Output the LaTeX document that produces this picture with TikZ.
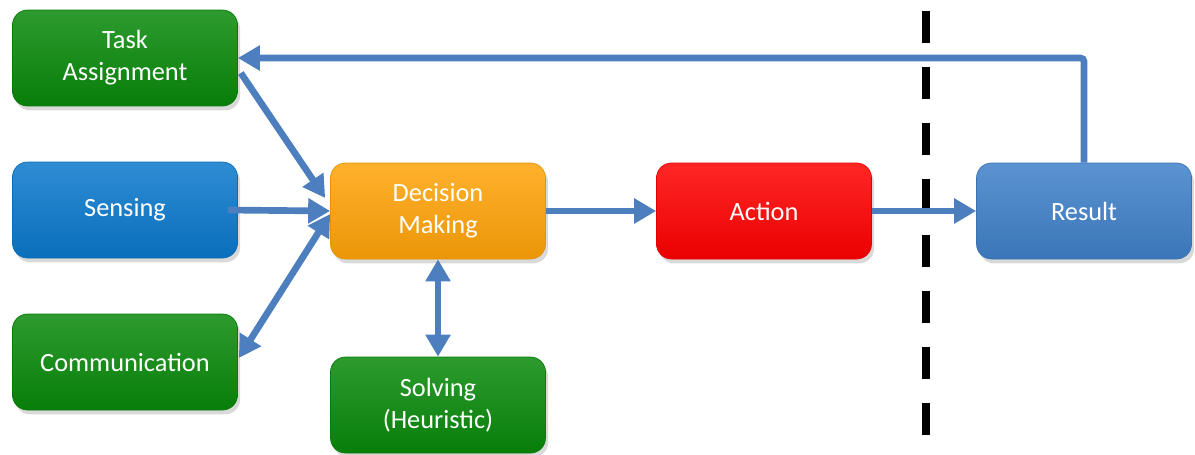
\documentclass[tikz,border=0pt]{standalone}
\usepackage{fontspec}
\setmainfont{Carlito}
\usepackage{xcolor}
\usepackage{tikz}
\usetikzlibrary{arrows.meta, calc, shadows}

\definecolor{taskgreen}{HTML}{08890A}
\definecolor{senseblue}{HTML}{0A78CC}
\definecolor{decorange}{HTML}{FFA308}
\definecolor{actred}{HTML}{FF0000}
\definecolor{resblue}{HTML}{3F80C8}
\definecolor{flowblue}{HTML}{4D7FBE}

\begin{document}
\begin{tikzpicture}[x=0.02cm, y=-0.02cm,
    flow/.style={draw=flowblue, line width=3.8pt, -{Triangle[width=0.48cm, length=0.44cm]}},
    twoway/.style={flow, {Triangle[width=0.48cm, length=0.44cm]}-{Triangle[width=0.48cm, length=0.44cm]}}]
    \tikzstyle{block}=[rounded corners=0.3cm, minimum width=4.5cm, minimum height=1.92cm,
        align=center, text=white, font=\fontsize{15}{18.2}\selectfont,
        drop shadow={opacity=0.3, shadow xshift=1.5pt, shadow yshift=-2.5pt}]
    \tikzset{boxfill/.style={block, top color=#1!85!white, middle color=#1, bottom color=#1!92!black, draw=#1!90!black, line width=0.4pt},
        narrow/.style={minimum width=4.3cm}}

    \useasboundingbox (0,0) rectangle (1195,454);

    % --- NODES ---
    % Inputs on the left column
    \node[boxfill=taskgreen]  (task)    at (125,58)  {Task\\Assignment};
    \node[boxfill=senseblue]  (sensing) at (125,210) {Sensing};
    \node[boxfill=taskgreen]  (comm)    at (125,362) {Communication};

    % Middle and right row
    \node[boxfill=decorange, narrow]  (decision) at (438,211)  {Decision\\Making};
    \node[boxfill=taskgreen, narrow]  (solving)  at (438,405)  {Solving\\(Heuristic)};
    \node[boxfill=actred, narrow]     (action)   at (764,211)  {Action};
    \node[boxfill=resblue, narrow]    (result)   at (1084,211) {Result};

    % --- DIVIDER ---
    \coordinate (divtop) at (926,10.7);
    \coordinate (divbot) at (926,434.7);
    \draw[line width=0.16cm, dash pattern=on 0.64cm off 0.48cm] (divtop) -- (divbot);

    % --- EDGES ---
    % Into Decision Making
    \draw[flow] ($(task.east)+(3,15)$) -- ($(decision.west)+(-5,-13)$);
    \draw[flow] ($(sensing.east)+(-10,0)$) -- (decision.west);
    \draw[twoway] ($(comm.east)+(1,-4)$) -- ($(decision.west)+(0,3)$);

    % Decision Making <-> Solving
    \draw[twoway] (decision.south) -- (solving.north);

    % Along the main row
    \draw[flow] (decision.east) -- (action.west);
    \draw[flow] (action.east) -- (result.west);

    % Feedback from Result
    \draw[flow, rounded corners=2pt] (result.north) |- (task.east);

\end{tikzpicture}
\end{document}
